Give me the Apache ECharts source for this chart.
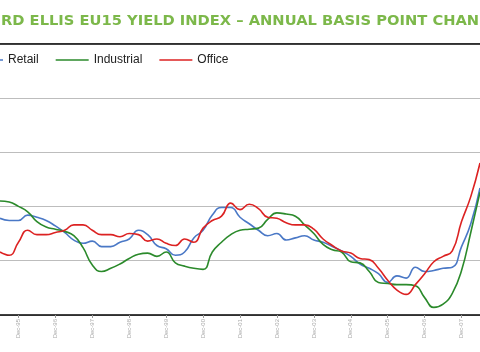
<!DOCTYPE html>
<html>
<head>
<meta charset="utf-8">
<style>
  html, body { margin: 0; padding: 0; background: #fff; }
  #main { width: 480px; height: 352px; }
</style>
<script src="https://cdn.jsdelivr.net/npm/echarts@6/dist/echarts.min.js"></script>
</head>
<body>
<div id="main"></div>
<script>
// quarterly points, Jun-95 .. Jun-08
const quarters = [];
const qNames = ['Jun', 'Sep', 'Dec', 'Mar'];
for (let i = 0; i < 53; i++) {
    const yr = 95 + Math.floor((i + 1) / 4);
    quarters.push(qNames[i % 4] + '-' + String(yr % 100).padStart(2, '0'));
}

const retail = [-11, -13, -13, -8, -10, -13, -18, -24, -31, -34, -32, -37, -37, -33, -30, -22, -26, -36, -39, -45,
    -42, -29, -22, -8, -1, -1, -10, -16, -22, -27, -25, -31, -29, -27, -31, -33, -37, -41, -46, -53,
    -57, -62, -70, -64, -66, -56, -60, -59, -57, -56, -37, -16, 17];
const industrial = [5, 4, 0, -5, -14, -19, -21, -23, -27, -38, -54, -60, -57, -53, -48, -44, -43, -46, -42, -52,
    -55, -57, -58, -42, -33, -26, -22, -21, -20, -12, -6, -7, -9, -17, -25, -35, -40, -42, -51, -52,
    -60, -70, -71, -72, -72, -73, -84, -93, -90, -80, -59, -24, 13];
const office = [-42, -45, -33, -22, -26, -26, -24, -22, -17, -17, -22, -26, -26, -28, -25, -26, -32, -30, -34, -36,
    -30, -33, -20, -13, -9, 3, -3, 2, -2, -10, -11, -15, -17, -17, -21, -30, -36, -41, -43, -48,
    -49, -57, -68, -77, -81, -72, -62, -51, -46, -41, -14, 9, 40];

const titleText = 'RD ELLIS EU15 YIELD INDEX \u2013 ANNUAL BASIS POINT CHAN';

const myChart = echarts.init(document.getElementById('main'));

function line(name, data, color) {
    return {
        name: name,
        type: 'line',
        data: data,
        smooth: true,
        showSymbol: false,
        symbol: 'none',
        lineStyle: { color: color, width: 1.6 },
        itemStyle: { color: color }
    };
}

const option = {
    animation: false,
    backgroundColor: '#fff',
    title: {
        text: titleText,
        left: -4,
        top: 9,
        textStyle: {
            fontFamily: 'DejaVu Sans',
            fontWeight: 'bold',
            fontSize: 14.7,
            color: '#7cb84a'
        }
    },
    legend: {
        left: -35,
        top: 49,
        icon: 'rect',
        itemWidth: 33,
        itemHeight: 1.5,
        itemGap: 17,
        textStyle: { fontFamily: 'Liberation Sans', fontSize: 12, color: '#222' },
        data: ['Retail', 'Industrial', 'Office']
    },
    grid: { left: 0, right: 0, top: 43.5, bottom: 37 },
    xAxis: [{
        type: 'category',
        data: quarters,
        boundaryGap: false,
        axisLine: { onZero: false, lineStyle: { color: '#000', width: 1.5 } },
        axisTick: {
            interval: (idx) => idx % 4 === 2,
            length: 3,
            lineStyle: { color: '#999' }
        },
        axisLabel: {
            interval: (idx) => idx % 4 === 2,
            rotate: 90,
            fontSize: 6,
            color: '#aaa',
            margin: 4,
            fontFamily: 'Liberation Sans'
        }
    }, {
        type: 'category',
        position: 'top',
        data: quarters,
        boundaryGap: false,
        axisLine: { onZero: false, lineStyle: { color: '#000', width: 1.5 } },
        axisTick: { show: false },
        axisLabel: { show: false }
    }],
    yAxis: {
        type: 'value',
        min: -100,
        max: 150,
        interval: 50,
        axisLine: { show: false },
        axisTick: { show: false },
        axisLabel: { show: false },
        splitLine: { lineStyle: { color: '#bdbdbd', width: 1 } }
    },
    series: [
        line('Retail', retail, '#4a78c6'),
        line('Industrial', industrial, '#2b8a2b'),
        line('Office', office, '#dc2222')
    ]
};

myChart.setOption(option);
</script>
</body>
</html>
